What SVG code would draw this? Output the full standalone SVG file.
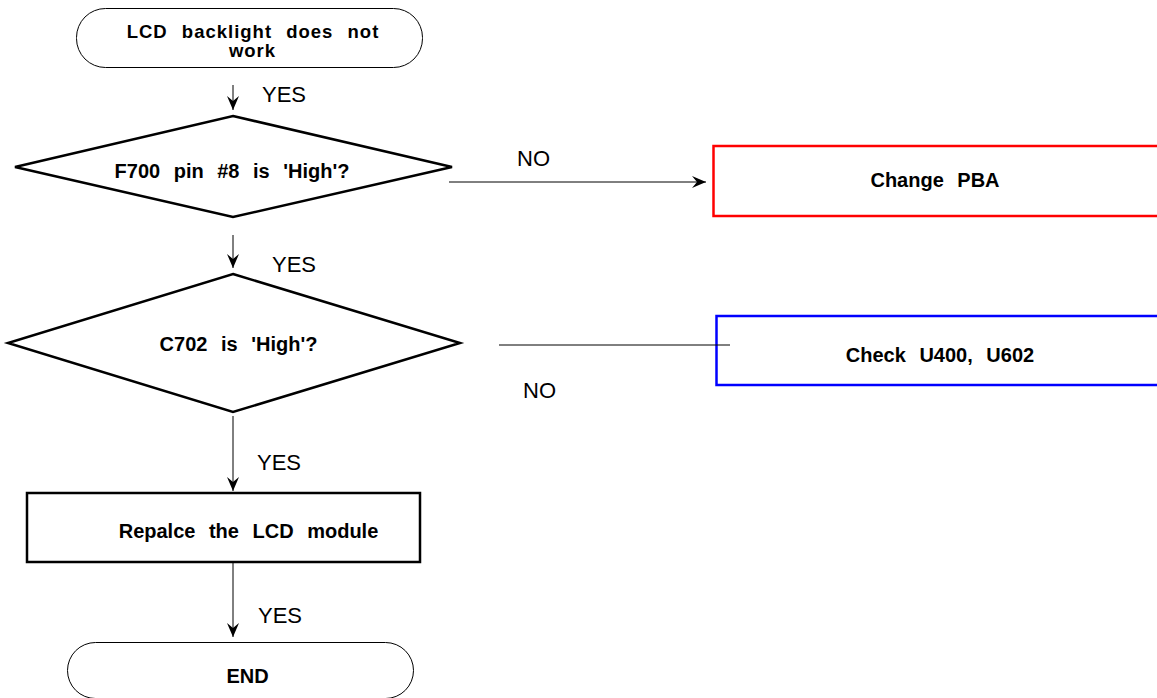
<svg xmlns="http://www.w3.org/2000/svg" width="1157" height="698" viewBox="0 0 1157 698">
<style>
.term{fill:#fff;stroke:#000;stroke-width:1}
.dec{fill:#fff;stroke:#000;stroke-width:2.5}
.proc{fill:#fff;stroke:#000;stroke-width:2.5}
.lbl{font-family:"Liberation Sans",Arial,sans-serif;font-weight:bold;font-size:20px;fill:#000;text-anchor:middle;word-spacing:8px}
.lbl.sm{font-size:18.5px;letter-spacing:1px;word-spacing:8px}
.yn{font-family:"Liberation Sans",Arial,sans-serif;font-size:22px;fill:#000}
.conn{fill:none;stroke:#000;stroke-width:1}
</style>
<defs>
<marker id="arr" markerUnits="userSpaceOnUse" markerWidth="18" markerHeight="16" refX="15" refY="7" orient="auto">
<path d="M1,1 L15,7 L1,13 L6,7 Z" fill="#000"/>
</marker>
</defs>
<g id="start">
<rect class="term" x="76.5" y="8.5" width="346" height="59" rx="29" ry="29"/>
<text class="lbl sm" x="253" y="37.5">LCD backlight does not</text>
<text class="lbl sm" x="252.5" y="57">work</text>
</g>
<g id="d1">
<polygon class="dec" points="233,116 452,167 233,217 15,167"/>
<text class="lbl" x="232" y="178">F700 pin #8 is 'High'?</text>
</g>
<g id="changepba">
<rect x="713.5" y="146" width="460" height="70" fill="#fff" stroke="#ff0000" stroke-width="2.5"/>
<text class="lbl" x="935" y="187">Change PBA</text>
</g>
<g id="d2">
<polygon class="dec" points="233,274 460,343 233,412 8,343"/>
<text class="lbl" x="238.5" y="351">C702 is 'High'?</text>
</g>
<g id="checku">
<rect x="716.5" y="316" width="460" height="69" fill="#fff" stroke="#0000ff" stroke-width="2.5"/>
<text class="lbl" x="940" y="362">Check U400, U602</text>
</g>
<g id="replace">
<rect class="proc" x="27" y="493" width="393" height="69"/>
<text class="lbl" x="248.5" y="538">Repalce the LCD module</text>
</g>
<g id="end">
<rect class="term" x="67.5" y="642.5" width="346" height="56" rx="28" ry="28"/>
<text class="lbl" x="247.5" y="683">END</text>
</g>
<g id="connectors">
<line class="conn" x1="233" y1="85" x2="233" y2="110" marker-end="url(#arr)"/>
<line class="conn" x1="449" y1="182" x2="706" y2="182" marker-end="url(#arr)"/>
<line class="conn" x1="233" y1="235" x2="233" y2="268" marker-end="url(#arr)"/>
<line class="conn" x1="499" y1="345" x2="730" y2="345"/>
<line class="conn" x1="233" y1="416" x2="233" y2="491" marker-end="url(#arr)"/>
<line class="conn" x1="233" y1="563" x2="233" y2="637" marker-end="url(#arr)"/>
</g>
<g id="labels">
<text class="yn" x="262" y="102">YES</text>
<text class="yn" x="517" y="166">NO</text>
<text class="yn" x="272" y="272">YES</text>
<text class="yn" x="523" y="398">NO</text>
<text class="yn" x="257" y="470">YES</text>
<text class="yn" x="258" y="623">YES</text>
</g>
</svg>
